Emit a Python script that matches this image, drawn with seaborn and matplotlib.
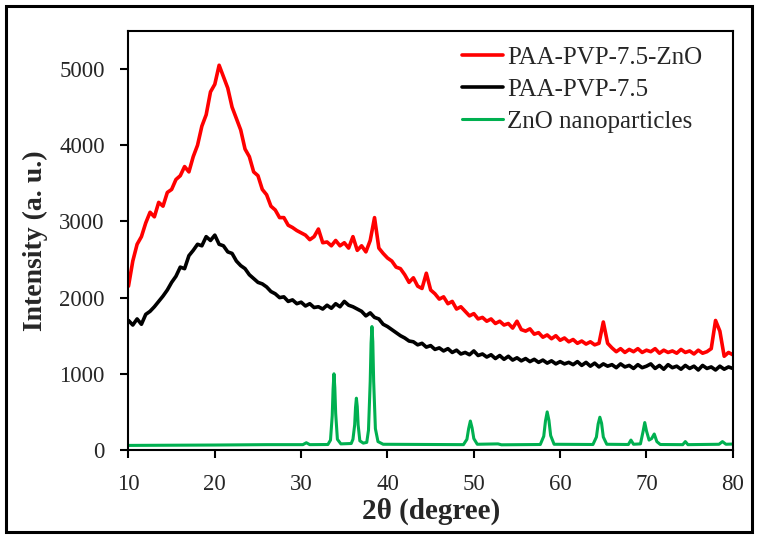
import numpy as np
import matplotlib
matplotlib.use("Agg")
import matplotlib.pyplot as plt
import seaborn as sns
from matplotlib.patches import Rectangle

# 2-theta grid for the two polymer scans (0.5 degree steps, 10..80)
two_theta = np.arange(10.0, 80.01, 0.5)

paa_pvp_zno = [
    2150, 2480, 2700, 2800, 2980, 3120, 3060, 3250, 3200, 3380,
    3420, 3550, 3600, 3720, 3650, 3850, 4000, 4250, 4400, 4700,
    4800, 5050, 4900, 4750, 4500, 4350, 4200, 3950, 3850, 3650,
    3600, 3420, 3350, 3200, 3150, 3050, 3050, 2950, 2920, 2880,
    2850, 2820, 2760, 2800, 2900, 2720, 2730, 2680, 2750, 2680,
    2720, 2650, 2800, 2620, 2680, 2600, 2750, 3050, 2650, 2580,
    2520, 2480, 2400, 2380, 2300, 2200, 2260, 2150, 2120, 2320,
    2100, 2050, 1980, 2010, 1920, 1950, 1850, 1880, 1820, 1760,
    1790, 1720, 1740, 1690, 1720, 1660, 1690, 1640, 1660, 1600,
    1690, 1580, 1560, 1590, 1520, 1540, 1480, 1510, 1460, 1500,
    1440, 1470, 1420, 1450, 1400, 1430, 1390, 1420, 1380, 1400,
    1680, 1400, 1340, 1290, 1330, 1280, 1320, 1290, 1330, 1280,
    1310, 1290, 1330, 1270, 1310, 1280, 1300, 1270, 1320, 1280,
    1300, 1260, 1310, 1270, 1290, 1330, 1700, 1560, 1230, 1280,
    1250,
]

paa_pvp = [
    1700, 1640, 1720, 1650, 1780, 1820, 1880, 1950, 2020, 2100,
    2200, 2280, 2400, 2380, 2550, 2620, 2700, 2680, 2800, 2750,
    2820, 2700, 2680, 2600, 2580, 2480, 2420, 2380, 2300, 2250,
    2200, 2180, 2140, 2080, 2050, 2000, 2010, 1950, 1970, 1920,
    1940, 1890, 1920, 1870, 1880, 1850, 1900, 1860, 1920, 1880,
    1950, 1900, 1880, 1850, 1820, 1760, 1800, 1740, 1720, 1650,
    1620, 1580, 1540, 1500, 1470, 1430, 1420, 1380, 1400, 1350,
    1370, 1320, 1340, 1300, 1330, 1280, 1310, 1260, 1280, 1250,
    1300, 1240, 1260, 1220, 1250, 1200, 1240, 1190, 1230, 1180,
    1210, 1170, 1200, 1160, 1190, 1150, 1180, 1140, 1170, 1130,
    1160, 1130, 1150, 1120, 1160, 1110, 1150, 1100, 1140, 1090,
    1130, 1100, 1120, 1080, 1130, 1090, 1110, 1070, 1120, 1080,
    1100, 1130, 1070, 1110, 1060, 1120, 1080, 1100, 1060, 1110,
    1070, 1100, 1050, 1110, 1070, 1090, 1050, 1100, 1060, 1090,
    1070,
]

# ZnO nanoparticles: sharp reflections on a flat baseline
zno_x = [10, 20, 26, 30.2, 30.6, 31.0,
         33.1, 33.4, 33.6, 33.7, 33.8, 33.9, 34.0, 34.2, 34.6,
         35.8, 36.0, 36.2, 36.3, 36.4, 36.5, 36.6, 36.8, 37.2,
         37.6, 37.8, 38.0, 38.1, 38.2, 38.3, 38.4, 38.6, 38.9, 39.5,
         48.8, 49.2, 49.4, 49.6, 49.8, 50.0, 50.4, 52.8, 53.2,
         57.7, 58.1, 58.3, 58.5, 58.7, 58.9, 59.3,
         63.8, 64.2, 64.4, 64.6, 64.8, 65.0, 65.4,
         67.9, 68.2, 68.5, 69.3, 69.6, 69.8, 70.0, 70.3, 70.6, 70.9, 71.2, 71.6,
         74.2, 74.5, 74.8, 78.4, 78.8, 79.2, 80]
zno_y = [60, 65, 70, 70, 95, 70,
         72, 130, 450, 800, 1000, 820, 480, 140, 80,
         85, 140, 330, 560, 680, 570, 330, 120, 90,
         100, 260, 900, 1400, 1620, 1420, 900, 280, 110, 75,
         70, 140, 280, 380, 290, 150, 75, 80, 68,
         72, 180, 380, 500, 390, 190, 75,
         72, 170, 340, 430, 350, 170, 75,
         72, 130, 75, 80, 240, 360, 250, 130, 150, 210, 110, 72,
         70, 110, 70, 75, 110, 75, 78]

labels = ["PAA-PVP-7.5-ZnO", "PAA-PVP-7.5", "ZnO nanoparticles"]
colors = ["#ff0000", "#000000", "#00b050"]

sns.set_style("ticks")
plt.rcParams["font.family"] = ["Liberation Serif", "DejaVu Serif"]

fig = plt.figure(figsize=(7.62, 5.4), dpi=100)
ax = fig.add_axes([0.1686, 0.1667, 0.7931, 0.776])

sns.lineplot(x=zno_x, y=zno_y, ax=ax, color=colors[2], lw=2.2,
             label=labels[2], estimator=None, sort=False)
sns.lineplot(x=two_theta, y=paa_pvp, ax=ax, color=colors[1], lw=2.6,
             label=labels[1], estimator=None, sort=False)
sns.lineplot(x=two_theta, y=paa_pvp_zno, ax=ax, color=colors[0], lw=2.6,
             label=labels[0], estimator=None, sort=False)

ax.set_xlim(10, 80)
ax.set_ylim(0, 5500)
ax.set_xticks(range(10, 81, 10))
ax.set_yticks(range(0, 5001, 1000))
ax.tick_params(direction="out", length=6, width=1.5, labelsize=16.5,
               color="black", pad=11)
for s in ax.spines.values():
    s.set_visible(True)
    s.set_linewidth(1.5)
    s.set_color("black")

ax.set_xlabel("2θ (degree)", fontsize=21, fontweight="bold", labelpad=2)
ax.set_ylabel("Intensity (a. u.)", fontsize=20, fontweight="bold", labelpad=8)

h, l = ax.get_legend_handles_labels()
order = [l.index(t) for t in labels]
ax.legend([h[i] for i in order], [l[i] for i in order], loc="upper left",
          frameon=False, fontsize=18, handlelength=1.64, handletextpad=0.16,
          labelspacing=0.38, borderaxespad=0, borderpad=0,
          bbox_to_anchor=(0.552, 0.963))

# outer frame around the whole picture
fig.patches.append(Rectangle((0.0085, 0.0139), 0.979, 0.975, transform=fig.transFigure,
                             fill=False, edgecolor="black", lw=2.2))

fig.savefig("out.png", dpi=100)
